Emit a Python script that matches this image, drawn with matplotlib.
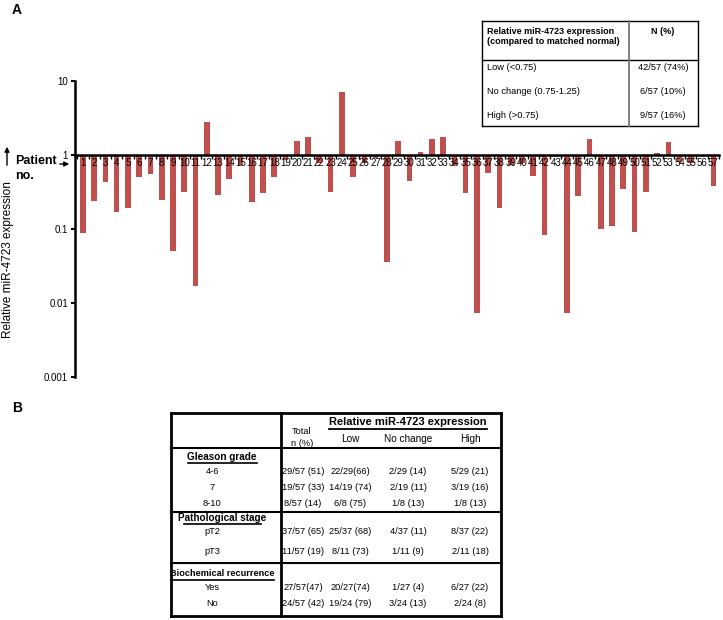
import numpy as np
import matplotlib
matplotlib.use('Agg')
import matplotlib.pyplot as plt
from matplotlib.lines import Line2D

plt.rcParams['font.family'] = ['Liberation Sans', 'DejaVu Sans']

# relative miR-4723 expression per patient
patients = list(range(1, 58))
expression = [0.089, 0.24, 0.43, 0.17, 0.19, 0.50, 0.55, 0.25, 0.051, 0.32,
              0.017, 2.8, 0.29, 0.48, 0.74, 0.23, 0.31, 0.50, 0.85, 1.55,
              1.77, 0.77, 0.32, 7.1, 0.50, 0.77, 0.90, 0.036, 1.55, 0.44,
              1.10, 1.63, 1.77, 0.70, 0.31, 0.0073, 0.58, 0.19, 0.73, 0.77,
              0.52, 0.084, 0.95, 0.0074, 0.28, 1.63, 0.099, 0.11, 0.35, 0.091,
              0.32, 1.06, 1.48, 0.81, 0.77, 0.95, 0.38]
ytick_vals = [0.001, 0.01, 0.1, 1, 10]
ytick_labels = ['0.001', '0.01', '0.1', '1', '10']

# table A
summary_cats = ['Low (<0.75)', 'No change (0.75-1.25)', 'High (>0.75)']
summary_n = ['42/57 (74%)', '6/57 (10%)', '9/57 (16%)']

# table B
group_titles = ['Gleason grade', 'Pathological stage', 'Biochemical recurrence']
row_labels = [['4-6', '7', '8-10'], ['pT2', 'pT3'], ['Yes', 'No']]
col_heads = ['Low', 'No change', 'High']
total_n = [['29/57 (51)', '19/57 (33)', '8/57 (14)'],
           ['37/57 (65)', '11/57 (19)'],
           ['27/57(47)', '24/57 (42)']]
low_n = [['22/29(66)', '14/19 (74)', '6/8 (75)'],
         ['25/37 (68)', '8/11 (73)'],
         ['20/27(74)', '19/24 (79)']]
nochange_n = [['2/29 (14)', '2/19 (11)', '1/8 (13)'],
              ['4/37 (11)', '1/11 (9)'],
              ['1/27 (4)', '3/24 (13)']]
high_n = [['5/29 (21)', '3/19 (16)', '1/8 (13)'],
          ['8/37 (22)', '2/11 (18)'],
          ['6/27 (22)', '2/24 (8)']]

W, H = 723, 620
fig = plt.figure(figsize=(W / 100, H / 100), dpi=100)


def fx(x):
    return x / W


def fy(y):
    return 1 - y / H


def ftext(x, y, s, **kw):
    kw.setdefault('ha', 'center')
    kw.setdefault('va', 'center')
    kw.setdefault('fontsize', 6.7)
    fig.text(fx(x), fy(y), s, **kw)


def fline(x0, y0, x1, y1, lw=1, color='black'):
    fig.add_artist(Line2D([fx(x0), fx(x1)], [fy(y0), fy(y1)], lw=lw,
                          color=color, transform=fig.transFigure))


# ---- panel A bar chart ----
ax = fig.add_axes([fx(75), fy(377), fx(719) - fx(75), fy(81) - fy(377)])
vals = np.array(expression)
ax.bar(patients, vals - 1, bottom=1, width=0.5, color='#C0504D', zorder=1)
ax.set_yscale('log')
ax.set_ylim(0.001, 10)
ax.set_xlim(0.3, 57.4)
ax.spines['top'].set_visible(False)
ax.spines['right'].set_visible(False)
ax.spines['bottom'].set_position(('data', 1))
ax.spines['bottom'].set_linewidth(1.8)
ax.spines['bottom'].set_zorder(3)
ax.spines['left'].set_linewidth(1.8)
ax.set_yticks(ytick_vals)
ax.set_yticklabels(ytick_labels, fontsize=7)
ax.yaxis.set_minor_locator(matplotlib.ticker.NullLocator())
ax.tick_params(axis='y', length=3, width=1.5, pad=2)
ax.set_xticks(patients)
ax.set_xticklabels([str(p) for p in patients], fontsize=7)
ax.set_xticks(np.arange(0.5, 57.6, 1), minor=True)
ax.tick_params(axis='x', which='major', length=0, pad=2)
ax.tick_params(axis='x', which='minor', length=3, width=1)
for lab in ax.get_xticklabels():
    lab.set_zorder(2)

ftext(8, 260, 'Relative miR-4723 expression', rotation=90, fontsize=8.5)
ftext(15, 161, 'Patient', ha='left', fontsize=9, fontweight='bold')
ftext(15, 176, 'no.', ha='left', fontsize=9, fontweight='bold')
fig.add_artist(matplotlib.patches.FancyArrowPatch(
    (fx(7), fy(168)), (fx(7), fy(144)), transform=fig.transFigure,
    arrowstyle='-|>', mutation_scale=7, lw=1, color='black'))
fig.add_artist(matplotlib.patches.FancyArrowPatch(
    (fx(57), fy(164)), (fx(72), fy(164)), transform=fig.transFigure,
    arrowstyle='-|>', mutation_scale=7, lw=1, color='black'))

ftext(12, 10, 'A', fontsize=10, fontweight='bold', ha='left')
ftext(12, 408, 'B', fontsize=10, fontweight='bold', ha='left')

# ---- table A ----
fline(482, 21, 698, 21)
fline(482, 126, 698, 126)
fline(482, 21, 482, 126)
fline(698, 21, 698, 126)
fline(482, 60, 698, 60)
fline(629, 21, 629, 126, lw=1.3, color='#777777')
ftext(487, 31, 'Relative miR-4723 expression', ha='left', fontweight='bold',
      fontsize=6.5)
ftext(487, 42, '(compared to matched normal)', ha='left', fontweight='bold',
      fontsize=6.5)
ftext(663, 31, 'N (%)', fontweight='bold', fontsize=6.5)
for cat, n, y in zip(summary_cats, summary_n, [67, 91, 116]):
    ftext(487, y, cat, ha='left')
    ftext(663, y, n)

# ---- table B ----
fline(171, 413, 501, 413, lw=2)
fline(171, 616, 501, 616, lw=2)
fline(171, 413, 171, 616, lw=2)
fline(501, 413, 501, 616, lw=2)
fline(281, 413, 281, 616, lw=2)
fline(171, 448, 501, 448, lw=1.5)
fline(171, 512, 501, 512, lw=1.5)
fline(171, 563, 501, 563, lw=1.5)
ftext(302, 432, 'Total')
ftext(302, 443, 'n (%)')
ftext(408, 422, 'Relative miR-4723 expression', fontsize=8, fontweight='bold')
fline(329, 429, 487, 429, lw=1.3)
col_x = [350, 408, 470]
for head, x in zip(col_heads, col_x):
    ftext(x, 439, head, fontsize=7.2)

title_y = [457, 518, 574]
title_size = [7.2, 7.2, 6.6]
title_ul = [(188, 257), (184, 261), (171, 274)]
row_y = [[471, 487, 503], [532, 551], [587, 604]]
for g in range(3):
    ftext(222, title_y[g], group_titles[g], fontsize=title_size[g],
          fontweight='bold')
    fline(title_ul[g][0], title_y[g] + 6, title_ul[g][1], title_y[g] + 6, lw=1.2)
    for i, y in enumerate(row_y[g]):
        ftext(212, y, row_labels[g][i])
        ftext(303, y, total_n[g][i])
        ftext(col_x[0], y, low_n[g][i])
        ftext(col_x[1], y, nochange_n[g][i])
        ftext(col_x[2], y, high_n[g][i])

fig.savefig('out.png', dpi=100)
